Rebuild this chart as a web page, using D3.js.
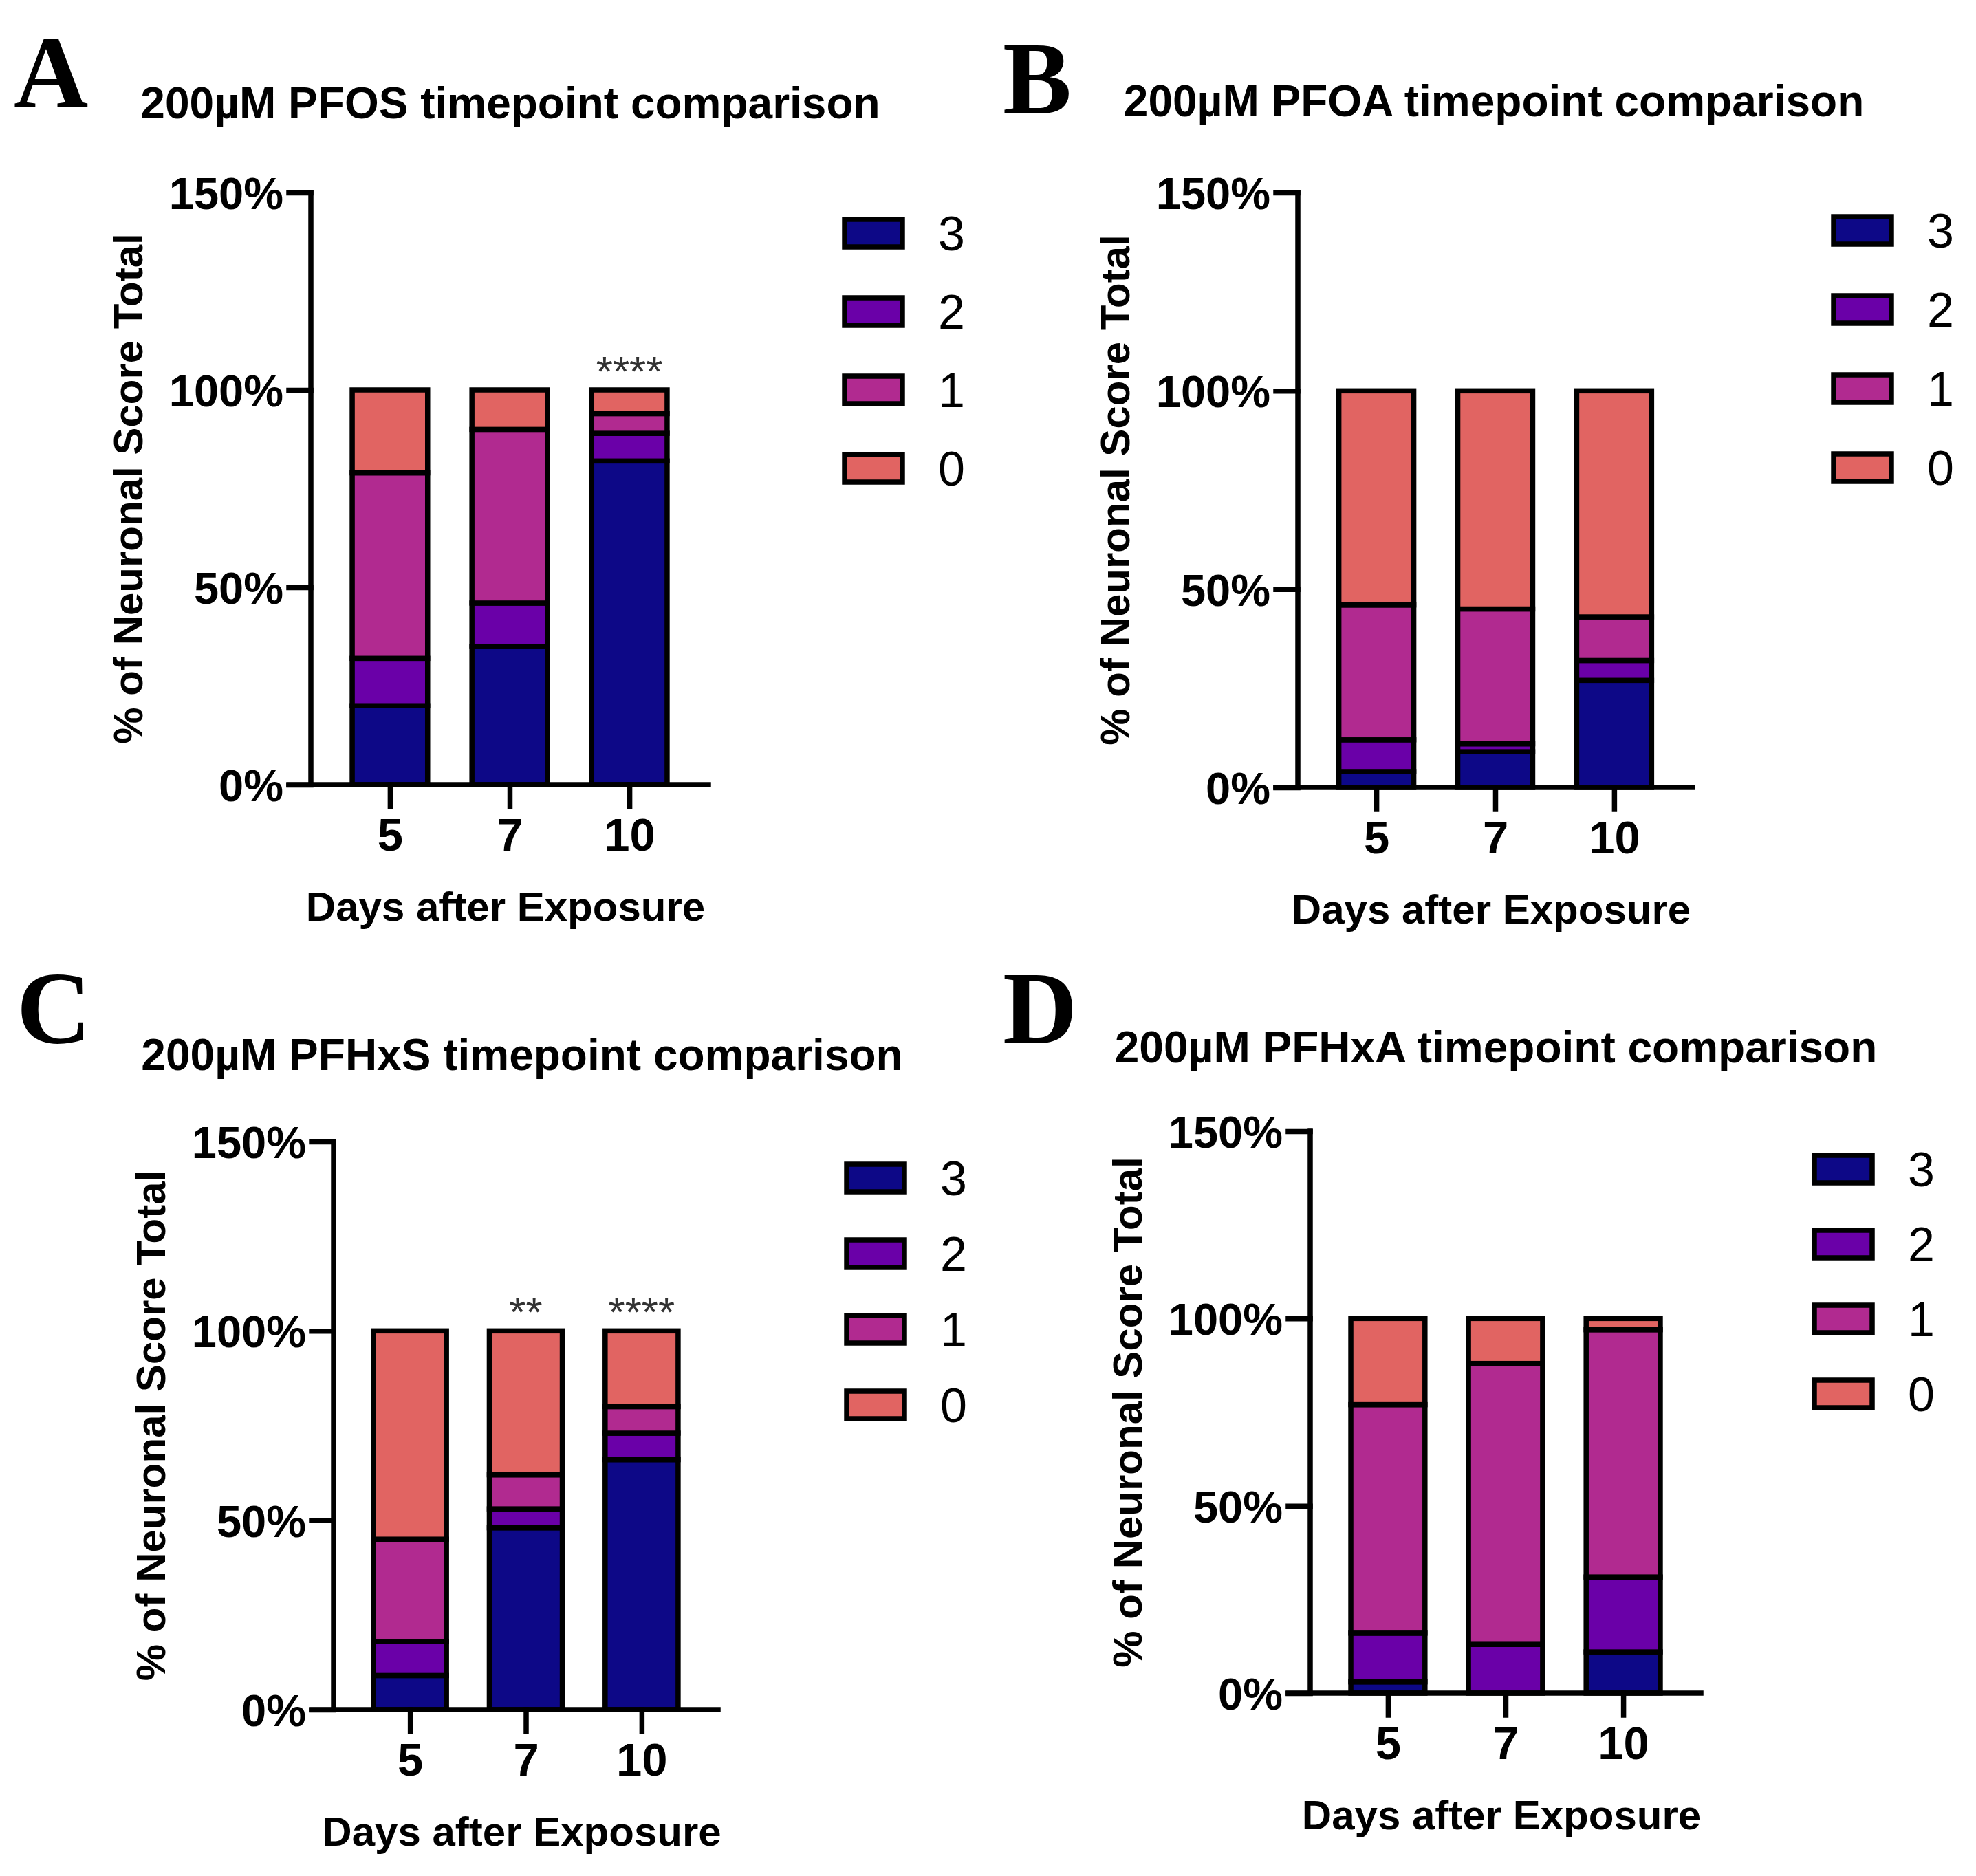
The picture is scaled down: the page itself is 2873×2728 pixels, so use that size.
<!DOCTYPE html>
<html>
<head>
<meta charset="utf-8">
<script src="https://cdn.jsdelivr.net/npm/d3@7"></script>
<style>
  body { margin: 0; background: #fff; }
</style>
</head>
<body>
<svg id="chart"></svg>
<script>
// categories
const days = ["5", "7", "10"];
const scoreKeys = ["3", "2", "1", "0"];
const scoreColors = ["#0d0887", "#6a00a8", "#b12a90", "#e16462"];
const yTicks = [0, 50, 100, 150];

// % of neuronal score per day (5, 7, 10)
const pfos3 = [20, 35, 82];
const pfos2 = [12, 11, 7];
const pfos1 = [47, 44, 5];
const pfos0 = [21, 10, 6];
const pfosStars = ["", "", "****"];

const pfoa3 = [4, 9, 27];
const pfoa2 = [8, 2, 5];
const pfoa1 = [34, 34, 11];
const pfoa0 = [54, 55, 57];
const pfoaStars = ["", "", ""];

const pfhxs3 = [9, 48, 66];
const pfhxs2 = [9, 5, 7];
const pfhxs1 = [27, 9, 7];
const pfhxs0 = [55, 38, 20];
const pfhxsStars = ["", "**", "****"];

const pfhxa3 = [3, 0, 11];
const pfhxa2 = [13, 13, 20];
const pfhxa1 = [61, 75, 66];
const pfhxa0 = [23, 12, 3];
const pfhxaStars = ["", "", ""];

const W = 2873, H = 2728;
const SANS = "'Liberation Sans', Arial, sans-serif";
const SERIF = "'Liberation Serif', 'Times New Roman', serif";

// panel layout (page px)
const panels = [
  { letter: "A", title: "200µM PFOS timepoint comparison", s: [pfos3, pfos2, pfos1, pfos0], stars: pfosStars,
    ox: 452, y0: 1141, y150: 280, w: 578, tx: 742, ty: 172, lx: 20, ly: 156,
    legX: 1228, legY: 339, legStep: 114 },
  { letter: "B", title: "200µM PFOA timepoint comparison", s: [pfoa3, pfoa2, pfoa1, pfoa0], stars: pfoaStars,
    ox: 1887, y0: 1145, y150: 280, w: 574, tx: 2172, ty: 169, lx: 1458, ly: 165,
    legX: 2666, legY: 335, legStep: 115 },
  { letter: "C", title: "200µM PFHxS timepoint comparison", s: [pfhxs3, pfhxs2, pfhxs1, pfhxs0], stars: pfhxsStars,
    ox: 485, y0: 2486, y150: 1660, w: 559, tx: 759, ty: 1556, lx: 24, ly: 1517,
    legX: 1231, legY: 1713, legStep: 110 },
  { letter: "D", title: "200µM PFHxA timepoint comparison", s: [pfhxa3, pfhxa2, pfhxa1, pfhxa0], stars: pfhxaStars,
    ox: 1905, y0: 2462, y150: 1645, w: 568, tx: 2175, ty: 1545, lx: 1458, ly: 1517,
    legX: 2638, legY: 1700, legStep: 109 }
];

const svg = d3.select("#chart")
  .attr("width", W)
  .attr("height", H)
  .attr("viewBox", `0 0 ${W} ${H}`)
  .style("font-family", SANS);

svg.append("rect").attr("width", W).attr("height", H).attr("fill", "#fff");

const stroke = 7.5;

panels.forEach((p) => {
  const g = svg.append("g");

  // rows for stacking
  const rows = days.map((d, i) => {
    const r = { day: d, star: p.stars[i] };
    scoreKeys.forEach((k, j) => { r[k] = p.s[j][i]; });
    return r;
  });
  const stacked = d3.stack().keys(scoreKeys)(rows);

  const x = d3.scalePoint().domain(days).range([p.ox, p.ox + p.w]).padding(0.66);
  const y = d3.scaleLinear().domain([0, 150]).range([p.y0, p.y150]);
  const barW = x.step() * 0.63;

  // panel letter
  g.append("text")
    .attr("x", p.lx).attr("y", p.ly)
    .style("font-family", SERIF)
    .attr("font-weight", "bold")
    .attr("font-size", 150)
    .text(p.letter);

  // title
  g.append("text")
    .attr("x", p.tx).attr("y", p.ty)
    .attr("text-anchor", "middle")
    .attr("font-weight", "bold")
    .attr("font-size", 64)
    .text(p.title);

  // stacked bars
  g.selectAll(".layer")
    .data(stacked)
    .join("g")
    .attr("fill", (d, i) => scoreColors[i])
    .selectAll("rect")
    .data((d) => d.filter((v) => v[1] > v[0]))
    .join("rect")
    .attr("x", (d) => x(d.data.day) - barW / 2)
    .attr("y", (d) => y(d[1]))
    .attr("width", barW)
    .attr("height", (d) => y(d[0]) - y(d[1]))
    .attr("stroke", "#000")
    .attr("stroke-width", stroke);

  // significance stars
  g.selectAll(".star")
    .data(rows)
    .join("text")
    .attr("x", (d) => x(d.day))
    .attr("y", y(100) - 6)
    .attr("text-anchor", "middle")
    .attr("font-size", 62)
    .attr("fill", "#333")
    .text((d) => d.star);

  // y axis
  const yAxis = g.append("g")
    .attr("transform", `translate(${p.ox},0)`)
    .call(d3.axisLeft(y).tickValues(yTicks).tickFormat((d) => d + "%").tickSize(32).tickPadding(8));
  // x axis
  const xAxis = g.append("g")
    .attr("transform", `translate(0,${p.y0})`)
    .call(d3.axisBottom(x).tickSize(32).tickPadding(14));
  xAxis.select(".domain").attr("d", `M${p.ox - 32},0H${p.ox + p.w}`);
  yAxis.select(".domain").attr("d", `M0,${p.y150}V${p.y0}`);

  [yAxis, xAxis].forEach((a) => {
    a.selectAll(".domain, line").attr("stroke", "#000").attr("stroke-width", stroke).attr("stroke-linecap", "square");
    a.selectAll("text")
      .style("font-family", SANS)
      .attr("font-weight", "bold")
      .attr("font-size", 65)
      .attr("fill", "#000");
  });
  yAxis.selectAll("text").attr("dy", "0.36em");
  xAxis.selectAll("text").attr("dy", "0.75em").attr("font-size", 67);

  // axis titles
  g.append("text")
    .attr("x", p.ox + p.w / 2 - 6)
    .attr("y", p.y0 + 198)
    .attr("text-anchor", "middle")
    .attr("font-weight", "bold")
    .attr("font-size", 60)
    .text("Days after Exposure");

  g.append("text")
    .attr("transform", `translate(${p.ox - 245},${(p.y0 + p.y150) / 2}) rotate(-90)`)
    .attr("text-anchor", "middle")
    .attr("font-weight", "bold")
    .attr("font-size", 60)
    .text("% of Neuronal Score Total");

  // legend
  const leg = g.selectAll(".leg")
    .data(scoreKeys)
    .join("g")
    .attr("transform", (d, i) => `translate(${p.legX},${p.legY + i * p.legStep})`);
  leg.append("rect")
    .attr("x", 0).attr("y", -20)
    .attr("width", 84).attr("height", 40)
    .attr("fill", (d, i) => scoreColors[i])
    .attr("stroke", "#000")
    .attr("stroke-width", stroke);
  leg.append("text")
    .attr("x", 136).attr("y", 0)
    .attr("dy", "0.36em")
    .attr("font-size", 70)
    .text((d) => d);
});
</script>
</body>
</html>
